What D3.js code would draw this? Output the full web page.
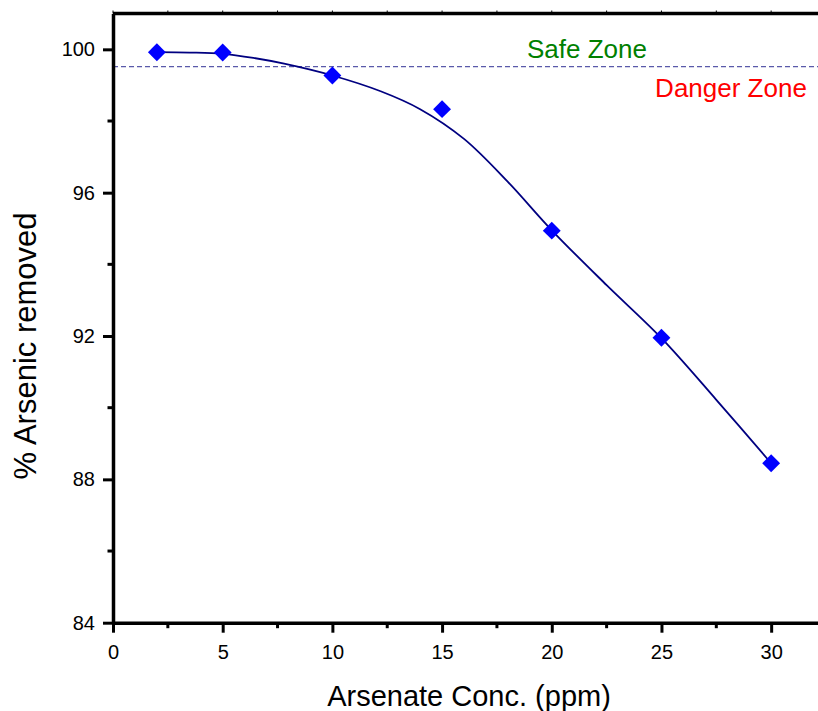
<!DOCTYPE html>
<html>
<head>
<meta charset="utf-8">
<script src="https://cdn.jsdelivr.net/npm/d3@7"></script>
<style>
  html, body { margin: 0; padding: 0; background: #fff; }
  svg { display: block; font-family: "Liberation Sans", Arial, sans-serif; }
</style>
</head>
<body>
<svg id="chart" width="818" height="711"></svg>
<script>
// ---- data ----
const concPpm = [2, 5, 10, 15, 20, 25, 30];
const removedPct = [99.92, 99.91, 99.27, 98.33, 94.94, 91.95, 88.45];

// fitted curve
const fitX = [2, 3.5, 5, 6.4, 7.8, 10, 12.2, 14, 16, 18, 20, 22.5, 25, 27.5, 30];
const fitY = [99.92, 99.91, 99.875, 99.76, 99.6, 99.27, 98.83, 98.33, 97.5, 96.3, 94.95, 93.42, 91.94, 90.22, 88.45];

const safeLimit = 99.52;
const xTicks = [0, 5, 10, 15, 20, 25, 30];
const xMinorTicks = [2.5, 7.5, 12.5, 17.5, 22.5, 27.5, 32.5];
const yTicks = [84, 88, 92, 96, 100];
const yMinorTicks = [86, 90, 94, 98];
const xTitle = "Arsenate Conc. (ppm)";
const yTitle = "% Arsenic removed";
const safeLabel = "Safe Zone";
const dangerLabel = "Danger Zone";

(function () {
// ---- layout ----
const svg = d3.select("#chart");
const pLeft = 113, pRight = 826, pTop = 13.5, pBottom = 622.7;

const x = d3.scaleLinear().domain([0, 32.5]).range([pLeft, pRight]);
const y = d3.scaleLinear().domain([84, 101]).range([pBottom, pTop]);

// dashed safe limit line
svg.append("line")
  .attr("x1", pLeft).attr("x2", 818)
  .attr("y1", y(safeLimit)).attr("y2", y(safeLimit))
  .attr("stroke", "#5a5aaa").attr("stroke-width", 1.3)
  .attr("stroke-dasharray", "5,3");

// fitted curve
const fitData = fitX.map((d, i) => [d, fitY[i]]);
svg.append("path")
  .datum(fitData)
  .attr("fill", "none")
  .attr("stroke", "#000080")
  .attr("stroke-width", 1.8)
  .attr("d", d3.line().x(d => x(d[0])).y(d => y(d[1])).curve(d3.curveCatmullRom.alpha(0.5)));

// diamonds
const diamond = d3.symbol().type(d3.symbolSquare).size(160);
svg.selectAll("path.pt")
  .data(concPpm.map((d, i) => [d, removedPct[i]]))
  .join("path")
  .attr("class", "pt")
  .attr("d", diamond)
  .attr("transform", d => `translate(${x(d[0])},${y(d[1])}) rotate(45)`)
  .attr("fill", "#0000ff");

// frame: top line
svg.append("line")
  .attr("x1", pLeft).attr("x2", 818).attr("y1", pTop).attr("y2", pTop)
  .attr("stroke", "#000").attr("stroke-width", 3.5);
svg.selectAll("line.topTick")
  .data(xTicks.concat(xMinorTicks))
  .join("line")
  .attr("class", "topTick")
  .attr("x1", d => x(d)).attr("x2", d => x(d))
  .attr("y1", pTop).attr("y2", pTop - 3)
  .attr("stroke", "#000").attr("stroke-width", 1);

// bottom axis
const xAxis = svg.append("g").attr("transform", `translate(0,${pBottom})`)
  .call(d3.axisBottom(x).tickValues(xTicks).tickSize(10).tickSizeOuter(0).tickPadding(12).tickFormat(d3.format("d")));
xAxis.select(".domain").attr("stroke-width", 3.5);
xAxis.selectAll(".tick line").attr("stroke-width", 3);
xAxis.selectAll(".tick text").attr("font-size", 20).attr("font-family", "Liberation Sans, Arial, sans-serif").attr("fill", "#000");
svg.append("g").attr("transform", `translate(0,${pBottom})`)
  .selectAll("line").data(xMinorTicks).join("line")
  .attr("x1", d => x(d)).attr("x2", d => x(d)).attr("y1", 0).attr("y2", 5.5)
  .attr("stroke", "#000").attr("stroke-width", 3);

// left axis
const yAxis = svg.append("g").attr("transform", `translate(${pLeft},0)`)
  .call(d3.axisLeft(y).tickValues(yTicks).tickSize(10).tickSizeOuter(0).tickPadding(8).tickFormat(d3.format("d")));
yAxis.select(".domain").attr("stroke-width", 3.5);
yAxis.selectAll(".tick line").attr("stroke-width", 3);
yAxis.selectAll(".tick text").attr("font-size", 20).attr("font-family", "Liberation Sans, Arial, sans-serif").attr("fill", "#000");
svg.append("g").attr("transform", `translate(${pLeft},0)`)
  .selectAll("line").data(yMinorTicks).join("line")
  .attr("x1", 0).attr("x2", -5.5).attr("y1", d => y(d)).attr("y2", d => y(d))
  .attr("stroke", "#000").attr("stroke-width", 3);

// zone labels
svg.append("text")
  .attr("x", 587).attr("y", 58)
  .attr("text-anchor", "middle")
  .attr("font-size", 26).attr("fill", "#008000")
  .text(safeLabel);
svg.append("text")
  .attr("x", 731).attr("y", 97)
  .attr("text-anchor", "middle")
  .attr("font-size", 26).attr("fill", "#ff0000")
  .text(dangerLabel);

// axis titles
svg.append("text")
  .attr("x", 469).attr("y", 706)
  .attr("text-anchor", "middle")
  .attr("font-size", 29).attr("fill", "#000")
  .text(xTitle);
svg.append("text")
  .attr("transform", "translate(36,346) rotate(-90)")
  .attr("text-anchor", "middle")
  .attr("font-size", 31).attr("fill", "#000")
  .text(yTitle);
})();
</script>
</body>
</html>
